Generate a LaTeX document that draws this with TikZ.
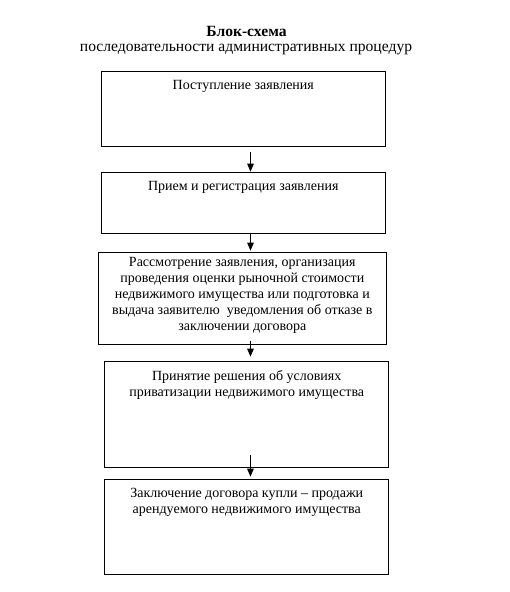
\documentclass[tikz,border=0pt]{standalone}
\usepackage{fontspec}
\setmainfont{Liberation Serif}
\usetikzlibrary{arrows.meta}
\begin{document}
\begin{tikzpicture}[x=1pt,y=-1pt,
  box/.style={draw=black, line width=0.9pt, anchor=north west, inner sep=0pt},
  txt/.style={anchor=north, align=center, inner sep=0pt, font=\fontsize{14}{15.8}\selectfont},
  arr/.style={draw=black, line width=0.9pt, -{Triangle[length=8pt,width=6.5pt]}}]
\useasboundingbox (0,0) rectangle (510,592);
\node[anchor=center, font=\fontsize{15.6}{17}\selectfont\bfseries] (title) at (246.5,31.5) {Блок-схема};
\node[anchor=center, font=\fontsize{15.6}{17}\selectfont] (subtitle) at (246,49.5) {последовательности административных процедур};
% boxes
\node[box, minimum width=284.3pt, minimum height=75.3pt] (b1) at (100.7,70.7) {};
\node[box, minimum width=284.3pt, minimum height=60.7pt] (b2) at (100.7,172.3) {};
\node[box, minimum width=288.3pt, minimum height=92pt] (b3) at (97.7,252) {};
\node[box, minimum width=284pt, minimum height=105.7pt] (b4) at (104.3,361.3) {};
\node[box, minimum width=284pt, minimum height=95pt] (b5) at (104.3,479.3) {};
% texts
\node[txt] (t1) at ([yshift=-9pt]b1.north) {Поступление заявления};
\node[txt] (t2) at ([yshift=-9pt]b2.north) {Прием и регистрация заявления};
\node[txt] (t3) at ([yshift=-5.5pt]b3.north) {Рассмотрение заявления, организация\\проведения оценки рыночной стоимости\\недвижимого имущества или подготовка и\\выдача заявителю\ \ уведомления об отказе в\\заключении договора};
\node[txt] (t4) at ([yshift=-9pt]b4.north) {Принятие решения об условиях\\приватизации недвижимого имущества};
\node[txt] (t5) at ([yshift=-9pt]b5.north) {Заключение договора купли – продажи\\арендуемого недвижимого имущества};
% arrows
\draw[arr] ([xshift=7.2pt,yshift=-4.7pt]b1.south) -- ([xshift=7.2pt,yshift=0.6pt]b2.north);
\draw[arr] ([xshift=7.2pt]b2.south) -- ([xshift=8.2pt,yshift=1.3pt]b3.north);
\draw[arr] ([xshift=8.2pt,yshift=4pt]b3.south) -- ([xshift=3.7pt,yshift=4.6pt]b4.north);
\draw[arr] ([xshift=3.7pt,yshift=12.7pt]b4.south) -- ([xshift=3.7pt,yshift=2.6pt]b5.north);
\end{tikzpicture}
\end{document}
